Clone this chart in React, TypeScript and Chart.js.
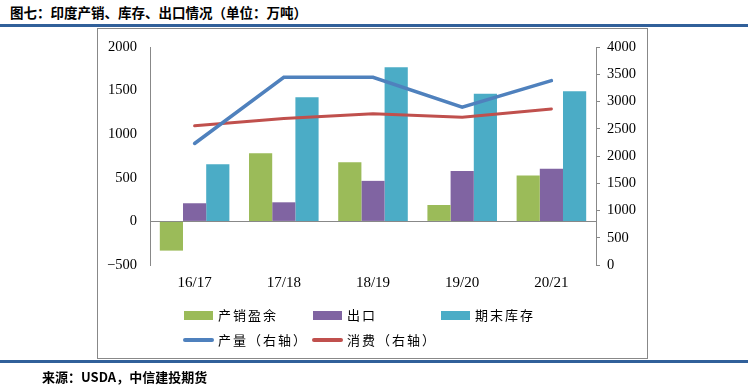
import React, { useEffect, useRef } from "react";
import { Chart, registerables } from "chart.js";

Chart.register(...registerables);

const categories = ["16/17", "17/18", "18/19", "19/20", "20/21"];
const surplus = [-335, 781, 677, 188, 527];
const exportsData = [208, 219, 465, 577, 604];
const endStock = [654, 1423, 1769, 1465, 1492];
const production = [2229, 3444, 3444, 2895, 3383];
const consumption = [2553, 2687, 2773, 2712, 2864];

const GREEN = "#9BBB59";
const PURPLE = "#8064A2";
const TEAL = "#4BACC6";
const BLUE = "#4F81BD";
const RED = "#C0504D";
const RULE = "#31609A";
const CJK = '"Noto Sans CJK SC", "Noto Sans", sans-serif';
const SERIF = '"Liberation Serif", "DejaVu Serif", serif';

export default function App() {
  const ref = useRef<HTMLCanvasElement | null>(null);

  useEffect(() => {
    const canvas = ref.current;
    if (!canvas) return;
    const chart = new Chart(canvas, {
      data: {
        labels: categories,
        datasets: [
          {
            type: "line",
            label: "产量（右轴）",
            data: production,
            yAxisID: "y1",
            borderColor: BLUE,
            backgroundColor: BLUE,
            borderWidth: 3.5,
            pointRadius: 0,
            tension: 0,
            borderCapStyle: "round",
            order: 0,
          },
          {
            type: "line",
            label: "消费（右轴）",
            data: consumption,
            yAxisID: "y1",
            borderColor: RED,
            backgroundColor: RED,
            borderWidth: 3,
            pointRadius: 0,
            tension: 0,
            borderCapStyle: "round",
            order: 0,
          },
          {
            type: "bar",
            label: "产销盈余",
            data: surplus,
            yAxisID: "y",
            backgroundColor: GREEN,
            categoryPercentage: 0.78,
            barPercentage: 1,
            order: 1,
          },
          {
            type: "bar",
            label: "出口",
            data: exportsData,
            yAxisID: "y",
            backgroundColor: PURPLE,
            categoryPercentage: 0.78,
            barPercentage: 1,
            order: 1,
          },
          {
            type: "bar",
            label: "期末库存",
            data: endStock,
            yAxisID: "y",
            backgroundColor: TEAL,
            categoryPercentage: 0.78,
            barPercentage: 1,
            order: 1,
          },
        ],
      } as any,
      options: {
        responsive: false,
        animation: false,
        layout: { padding: { left: 0, right: 0, top: 47, bottom: 94 } },
        plugins: { legend: { display: false }, tooltip: { enabled: false } },
        scales: {
          x: {
            grid: { display: false, drawTicks: false },
            border: { display: false },
            ticks: {
              color: "#000",
              font: { family: SERIF, size: 15 },
              padding: 9,
            },
            afterFit: (s: any) => {
              s.height = 30;
            },
          },
          y: {
            position: "left",
            min: -500,
            max: 2000,
            ticks: {
              stepSize: 500,
              color: "#000",
              font: { family: SERIF, size: 14.5 },
              padding: 13,
              callback: (v: any) => (Number(v) < 0 ? "\u2212" + String(-Number(v)) : String(v)),
            },
            grid: {
              drawTicks: false,
              color: (c: any) => (c.tick && c.tick.value === 0 ? "#888" : "rgba(0,0,0,0)"),
              lineWidth: 1,
            },
            border: { display: true, color: "#888", width: 1 },
            afterFit: (s: any) => {
              s.width = 150;
            },
          },
          y1: {
            position: "right",
            min: 0,
            max: 4000,
            ticks: {
              stepSize: 500,
              color: "#000",
              font: { family: SERIF, size: 14.5 },
              padding: 7,
              callback: (v: any) => String(v),
            },
            grid: {
              drawOnChartArea: false,
              drawTicks: true,
              tickLength: 4,
              color: "#888",
            },
            border: { display: true, color: "#888", width: 1 },
            afterFit: (s: any) => {
              s.width = 152;
            },
          },
        },
      } as any,
    });
    return () => chart.destroy();
  }, []);

  const legendText: React.CSSProperties = {
    position: "absolute",
    fontFamily: CJK,
    fontSize: 13,
    letterSpacing: 2,
    color: "#000",
    lineHeight: "16px",
    whiteSpace: "nowrap",
  };
  const box = (left: number, top: number, color: string): React.CSSProperties => ({
    position: "absolute",
    left,
    top,
    width: 29,
    height: 9,
    background: color,
  });
  const line = (left: number, top: number, color: string): React.CSSProperties => ({
    position: "absolute",
    left,
    top,
    width: 31,
    height: 4,
    borderRadius: 2,
    background: color,
  });

  return (
    <div
      style={{
        position: "fixed",
        left: 0,
        top: 0,
        width: 748,
        height: 389,
        background: "#fff",
        overflow: "hidden",
      }}
    >
      <div
        style={{
          position: "absolute",
          left: 10,
          top: 3,
          fontFamily: CJK,
          fontWeight: 700,
          fontSize: 13.5,
          lineHeight: "18px",
          color: "#000",
          whiteSpace: "nowrap",
        }}
      >
        图七：印度产销、库存、出口情况（单位：万吨）
      </div>
      <div style={{ position: "absolute", left: 0, top: 24, width: 748, height: 3, background: RULE }} />
      <div
        style={{
          position: "absolute",
          left: 97,
          top: 28,
          width: 549,
          height: 329,
          border: "1px solid #888",
        }}
      />
      <canvas
        ref={ref}
        width={748}
        height={389}
        style={{ position: "absolute", left: 0, top: 0, width: 748, height: 389 }}
      />
      <div style={box(184, 311, GREEN)} />
      <div style={{ ...legendText, left: 218, top: 307 }}>产销盈余</div>
      <div style={box(313, 311, PURPLE)} />
      <div style={{ ...legendText, left: 347, top: 307 }}>出口</div>
      <div style={box(441, 311, TEAL)} />
      <div style={{ ...legendText, left: 475, top: 307 }}>期末库存</div>
      <div style={line(183, 338, BLUE)} />
      <div style={{ ...legendText, left: 218, top: 332 }}>产量（右轴）</div>
      <div style={line(312, 338, RED)} />
      <div style={{ ...legendText, left: 347, top: 332 }}>消费（右轴）</div>
      <div style={{ position: "absolute", left: 0, top: 360, width: 748, height: 3, background: RULE }} />
      <div
        style={{
          position: "absolute",
          left: 42,
          top: 368,
          fontFamily: CJK,
          fontWeight: 700,
          fontSize: 13,
          lineHeight: "18px",
          color: "#000",
          whiteSpace: "nowrap",
        }}
      >
        来源：USDA，中信建投期货
      </div>
    </div>
  );
}
